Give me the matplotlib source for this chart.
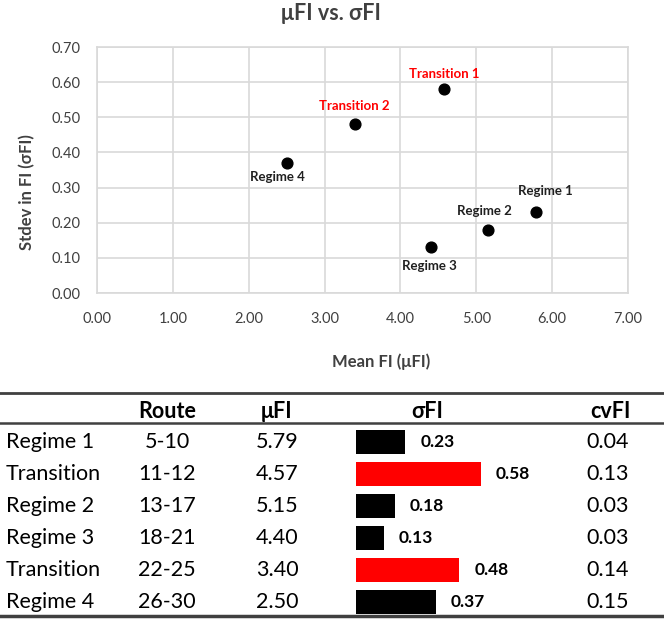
import matplotlib
matplotlib.use("Agg")
import matplotlib.pyplot as plt

plt.rcParams['font.family'] = ['Lato', 'DejaVu Sans']

# data
labels = ["Regime 1", "Transition 1", "Regime 2", "Regime 3", "Transition 2", "Regime 4"]
mean_fi = [5.79, 4.57, 5.15, 4.40, 3.40, 2.50]
std_fi = [0.23, 0.58, 0.18, 0.13, 0.48, 0.37]

row_names = ["Regime 1", "Transition", "Regime 2", "Regime 3", "Transition", "Regime 4"]
routes = ["5-10", "11-12", "13-17", "18-21", "22-25", "26-30"]
cv_fi = [0.04, 0.13, 0.03, 0.03, 0.14, 0.15]
is_transition = [False, True, False, False, True, False]

W, H = 664, 619
fig = plt.figure(figsize=(W / 100, H / 100), dpi=100)

def px_axes(x0, y0, x1, y1):
    return fig.add_axes([x0 / W, 1 - y1 / H, (x1 - x0) / W, (y1 - y0) / H])

# ---- scatter plot
ax = px_axes(97, 47, 628, 293)
ax.scatter(mean_fi, std_fi, s=60, color="black", zorder=3)
ax.set_xlim(0, 7)
ax.set_ylim(0, 0.7)
ax.set_xticks([i for i in range(8)])
ax.set_yticks([i / 10 for i in range(8)])
ax.set_xticklabels([f"{i:.2f}" for i in range(8)])
ax.set_yticklabels([f"{i / 10:.2f}" for i in range(8)])
ax.grid(color="#d9d9d9", lw=1.2)
ax.set_axisbelow(True)
for s in ax.spines.values():
    s.set_color("#d9d9d9")
    s.set_linewidth(1.2)
ax.tick_params(length=0, labelsize=10.5, colors="#404040")
ax.tick_params(axis="y", pad=12)
ax.tick_params(axis="x", pad=14)

# label offsets (pixels from the point)
offsets = {
    "Regime 1": (9, 21),
    "Transition 1": (1, 15),
    "Regime 2": (-3, 19),
    "Regime 3": (-1, -19),
    "Transition 2": (-1, 18),
    "Regime 4": (-9, -14),
}
for lab, x, y in zip(labels, mean_fi, std_fi):
    dx, dy = offsets[lab]
    col = "red" if lab.startswith("Transition") else "#202020"
    ax.annotate(lab, (x, y), xytext=(dx, dy), textcoords="offset pixels",
                ha="center", va="center", fontsize=9.5, fontweight="bold", color=col)

fig.text(331 / W, 1 - 14 / H, "μFI vs. σFI", ha="center", va="center",
         fontsize=15.5, fontweight="bold", color="#404040")
fig.text(381 / W, 1 - 362 / H, "Mean FI (μFI)", ha="center", va="center",
         fontsize=12, fontweight="bold", color="#404040")
fig.text(27 / W, 1 - 192 / H, "Stdev in FI (σFI)", ha="center", va="center",
         rotation=90, fontsize=12, fontweight="bold", color="#404040")

# ---- table
row_h = 32
y_first = 442
top_px, bot_px = 380, 619
tab = px_axes(0, top_px, W, bot_px)
tab.set_xlim(0, W)
tab.set_ylim((bot_px - y_first) / row_h, (top_px - y_first) / row_h)
tab.axis("off")

def ry(p):
    return (p - y_first) / row_h

tab.axhline(ry(393), color="#404040", lw=2)
tab.axhline(ry(423), color="#404040", lw=1.8)
tab.axhline(ry(616), color="#404040", lw=2.5)

hy = ry(411)
tfs = 15.5
tab.text(167, hy, "Route", ha="center", va="center", fontsize=tfs, fontweight="bold")
tab.text(277, hy, "μFI", ha="center", va="center", fontsize=tfs, fontweight="bold")
tab.text(427, hy, "σFI", ha="center", va="center", fontsize=tfs, fontweight="bold")
tab.text(610, hy, "cvFI", ha="center", va="center", fontsize=tfs, fontweight="bold")

for i in range(len(row_names)):
    tab.text(6, i, row_names[i], ha="left", va="center", fontsize=tfs)
    tab.text(167, i, routes[i], ha="center", va="center", fontsize=tfs)
    tab.text(277, i, f"{mean_fi[i]:.2f}", ha="center", va="center", fontsize=tfs)
    tab.text(608, i, f"{cv_fi[i]:.2f}", ha="center", va="center", fontsize=tfs)

# bars for sigma
scale = 215  # px per unit
bx = px_axes(356, top_px, 356 + scale * 0.7, bot_px)
bx.set_xlim(0, 0.7)
bx.set_ylim(tab.get_ylim())
bx.axis("off")
cols = ["red" if t else "black" for t in is_transition]
bx.barh(range(len(std_fi)), std_fi, height=0.74, color=cols)
for i, v in enumerate(std_fi):
    bx.text(v + 15 / scale, i, f"{v:.2f}", ha="left", va="center",
            fontsize=12.5, fontweight="bold")

fig.savefig("out.png", dpi=100)
